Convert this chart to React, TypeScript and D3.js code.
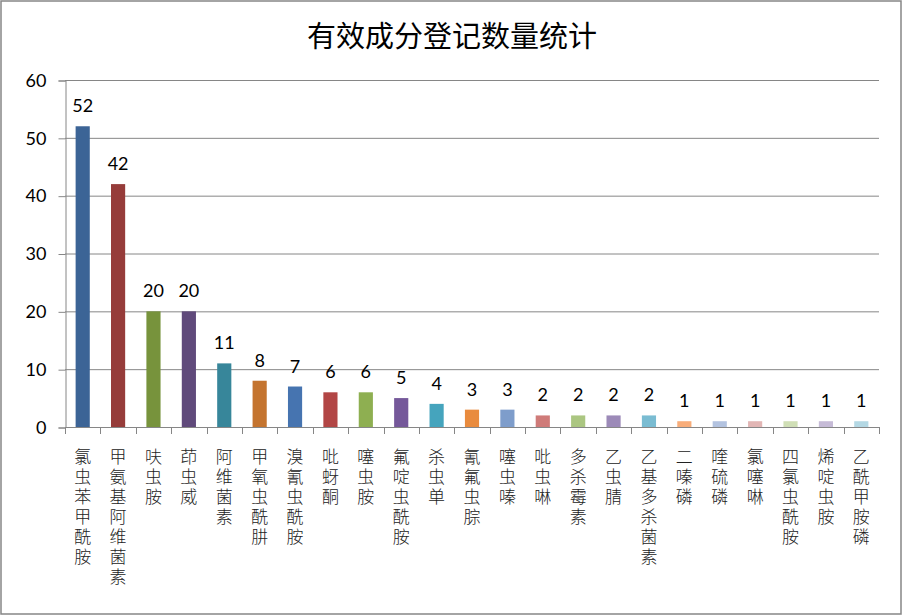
import React, { useEffect, useRef } from 'react';
import * as d3 from 'd3';

const categories = [
  '氯虫苯甲酰胺', '甲氨基阿维菌素', '呋虫胺', '茚虫威', '阿维菌素', '甲氧虫酰肼',
  '溴氰虫酰胺', '吡蚜酮', '噻虫胺', '氟啶虫酰胺', '杀虫单', '氰氟虫腙', '噻虫嗪',
  '吡虫啉', '多杀霉素', '乙虫腈', '乙基多杀菌素', '二嗪磷', '喹硫磷', '氯噻啉',
  '四氯虫酰胺', '烯啶虫胺', '乙酰甲胺磷',
];
const counts = [52, 42, 20, 20, 11, 8, 7, 6, 6, 5, 4, 3, 3, 2, 2, 2, 2, 1, 1, 1, 1, 1, 1];
const barColors = [
  '#3c6496', '#963c3a', '#77933c', '#604a7b', '#37869a', '#c4742f',
  '#4674b0', '#b24645', '#8eaf51', '#75589a', '#45a4bd', '#e98b3e',
  '#7e9dcb', '#cf7b79', '#abc681', '#9c8ab8', '#7abcd2', '#f8ad7a',
  '#b3c3e0', '#e2b6b5', '#d0dfb6', '#c6bbd7', '#b4d8e4',
];
const yTicks = [0, 10, 20, 30, 40, 50, 60];
const title = '有效成分登记数量统计';

export default function App() {
  const ref = useRef<SVGSVGElement>(null);

  useEffect(() => {
    const svg = d3.select(ref.current);
    svg.selectAll('*').remove();

    const left = 65;
    const right = 879;
    const top = 80;
    const bottom = 427;

    const x = d3.scaleBand().domain(categories).range([left, right]).paddingInner(0.6).paddingOuter(0.3);
    const y = d3.scaleLinear().domain([0, 60]).range([bottom, top]);

    // chart frame
    svg.append('rect')
      .attr('x', 1).attr('y', 1).attr('width', 900).attr('height', 613)
      .attr('fill', '#fff').attr('stroke', '#868686').attr('stroke-width', 1.5);

    svg.append('text')
      .attr('x', 452).attr('y', 47)
      .attr('text-anchor', 'middle')
      .style('font-family', '"Noto Sans CJK SC", sans-serif')
      .style('font-size', '29px')
      .attr('fill', '#000')
      .text(title);

    // gridlines
    svg.append('g')
      .selectAll('line')
      .data(yTicks.slice(1))
      .join('line')
      .attr('x1', left).attr('x2', right)
      .attr('y1', d => y(d) + 0.5).attr('y2', d => y(d) + 0.5)
      .attr('stroke', '#868686');

    const yAxis = d3.axisLeft(y).tickValues(yTicks).tickSize(7).tickPadding(12);
    const gy = svg.append('g').attr('transform', `translate(${left + 0.5},0.5)`).call(yAxis);
    gy.select('.domain').attr('stroke', '#868686');
    gy.selectAll('.tick line').attr('stroke', '#868686');
    gy.selectAll('.tick text')
      .style('font-family', 'Lato, sans-serif')
      .style('font-size', '18px')
      .attr('fill', '#000');

    // x axis baseline and ticks between categories
    const bounds = d3.range(categories.length + 1).map(i => left + i * (right - left) / categories.length);
    svg.append('line')
      .attr('x1', left).attr('x2', right)
      .attr('y1', bottom + 0.5).attr('y2', bottom + 0.5)
      .attr('stroke', '#868686');
    svg.append('g')
      .selectAll('line')
      .data(bounds)
      .join('line')
      .attr('x1', d => Math.round(d) + 0.5).attr('x2', d => Math.round(d) + 0.5)
      .attr('y1', bottom).attr('y2', bottom + 7)
      .attr('stroke', '#868686');

    svg.append('g')
      .selectAll('rect')
      .data(counts)
      .join('rect')
      .attr('x', (d, i) => x(categories[i]) as number)
      .attr('width', x.bandwidth())
      .attr('y', d => y(d))
      .attr('height', d => bottom - y(d))
      .attr('fill', (d, i) => barColors[i]);

    svg.append('g')
      .selectAll('text')
      .data(counts)
      .join('text')
      .attr('x', (d, i) => (x(categories[i]) as number) + x.bandwidth() / 2)
      .attr('y', d => y(d) - 14)
      .attr('text-anchor', 'middle')
      .style('font-family', 'Lato, sans-serif')
      .style('font-size', '18px')
      .attr('fill', '#000')
      .text(d => d);

    // vertical category labels: one character per line
    const labels = svg.append('g')
      .selectAll('text')
      .data(categories)
      .join('text')
      .attr('text-anchor', 'middle')
      .style('font-family', '"Noto Sans CJK SC", sans-serif')
      .style('font-size', '17px')
      .style('font-weight', 300)
      .attr('fill', '#222');
    labels.each(function (d) {
      const cx = (x(d) as number) + x.bandwidth() / 2;
      d3.select(this)
        .selectAll('tspan')
        .data(Array.from(d))
        .join('tspan')
        .attr('x', cx)
        .attr('y', (c, j) => 463 + j * 20)
        .text(c => c);
    });
  }, []);

  return (
    <svg
      ref={ref}
      width={903}
      height={616}
      style={{ position: 'absolute', left: 0, top: 0, background: '#fff' }}
    />
  );
}
